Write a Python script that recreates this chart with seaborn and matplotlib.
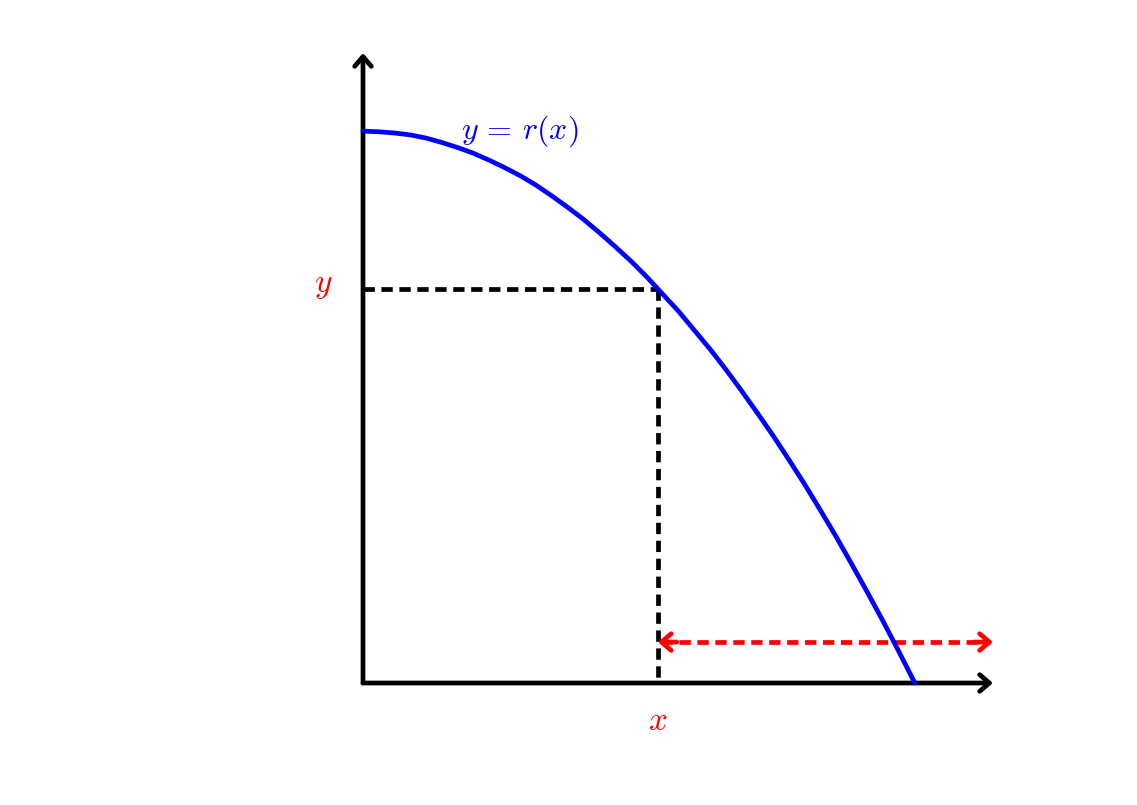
import matplotlib
matplotlib.use('Agg')
import matplotlib.pyplot as plt
import numpy as np
import seaborn as sns

# curve y = r(x)
curve_x = [0, 0.25, 0.5, 0.75, 1, 1.25, 1.5, 1.75, 2, 2.25, 2.5, 2.75, 3, 3.25, 3.5, 3.75,
           4, 4.25, 4.5, 4.75, 5, 5.25, 5.5, 5.75, 6, 6.25, 6.5, 6.75, 7, 7.25, 7.5, 7.75,
           8, 8.25, 8.5, 8.76]
curve_y = [8.76, 8.75, 8.73, 8.70, 8.65, 8.58, 8.50, 8.41, 8.30, 8.18, 8.05, 7.90, 7.73, 7.55,
           7.36, 7.15, 6.93, 6.70, 6.45, 6.18, 5.91, 5.61, 5.31, 4.99, 4.65, 4.30, 3.94, 3.56,
           3.17, 2.76, 2.34, 1.90, 1.45, 0.99, 0.51, 0.0]

# chosen point on the curve
point_x = 4.68
point_y = 6.25
# red double arrow height and end
gap_y = 0.65
axis_len = 10

sns.set_style("white")
plt.rcParams['mathtext.fontset'] = 'cm'

fig = plt.figure(figsize=(11.37, 8.05), dpi=100)
ax = fig.add_axes([0, 0, 1, 1])
ax.set_xlim(-363 / 63, (1137 - 363) / 63)
ax.set_ylim((683 - 805) / 63, 683 / 63)
ax.axis('off')

lw = 3.4
dash = (0, (2.4, 1.4))
head = dict(arrowstyle='->, head_length=0.35, head_width=0.3', mutation_scale=20,
            shrinkA=0, shrinkB=0)

# axes as arrows
ax.annotate('', xy=(axis_len, 0), xytext=(0, 0), arrowprops=dict(color='black', lw=lw, **head))
ax.annotate('', xy=(0, axis_len), xytext=(0, 0), arrowprops=dict(color='black', lw=lw, **head))

# the curve
sns.lineplot(x=curve_x, y=curve_y, ax=ax, color='blue', lw=lw, sort=False, zorder=3)

# dashed guides
ax.plot([0, point_x], [point_y, point_y], color='black', lw=lw, ls=dash)
ax.plot([point_x, point_x], [point_y, 0], color='black', lw=lw, ls=dash)

# red dashed double arrow
ax.plot([point_x + 0.05, axis_len - 0.05], [gap_y, gap_y], color='red', lw=lw, ls=dash)
ax.annotate('', xy=(point_x, gap_y), xytext=(point_x + 0.3, gap_y),
            arrowprops=dict(color='red', lw=lw, **head))
ax.annotate('', xy=(axis_len, gap_y), xytext=(axis_len - 0.3, gap_y),
            arrowprops=dict(color='red', lw=lw, **head))

# labels
ax.text(2.48, 8.76, r'$y\,=\,r(x)$', color='blue', fontsize=23, ha='center', va='center')
ax.text(-0.63, 6.32, r'$y$', color='red', fontsize=24, ha='center', va='center')
ax.text(point_x, -0.59, r'$x$', color='red', fontsize=24, ha='center', va='center')

fig.savefig('out.png', dpi=100)
